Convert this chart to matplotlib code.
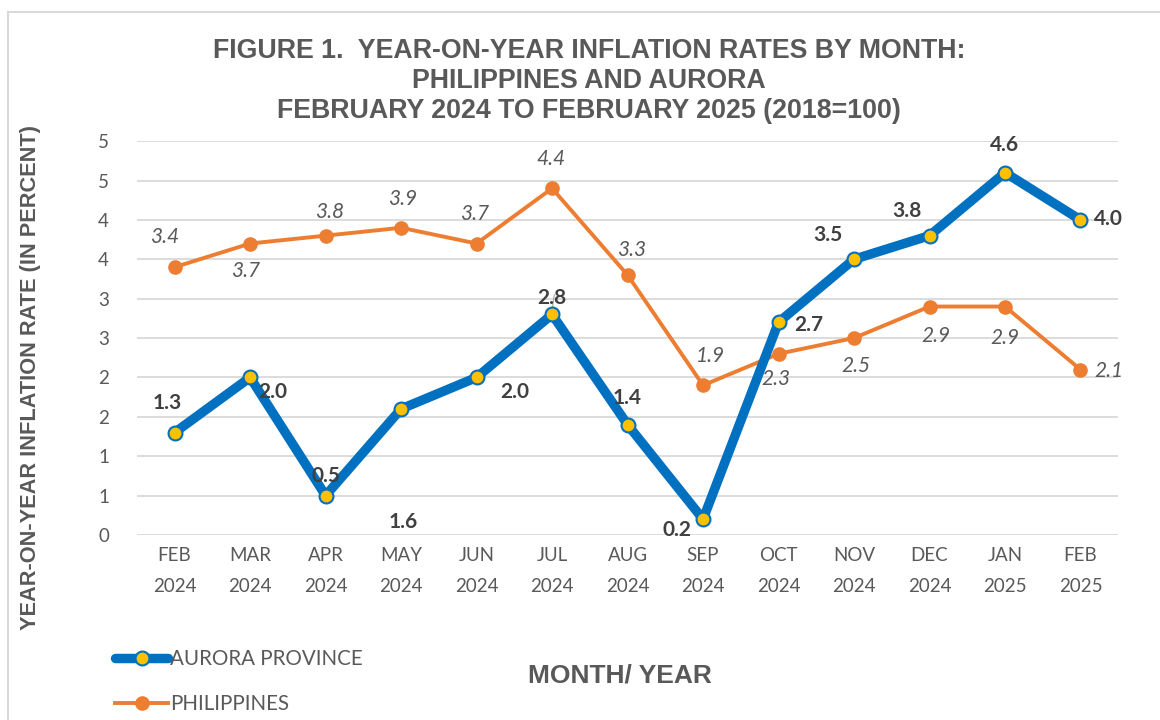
import matplotlib
matplotlib.use("Agg")
import matplotlib.pyplot as plt
from matplotlib.patches import Rectangle
from matplotlib.ticker import MultipleLocator, FuncFormatter
import numpy as np

months = ["FEB\n2024", "MAR\n2024", "APR\n2024", "MAY\n2024", "JUN\n2024", "JUL\n2024",
          "AUG\n2024", "SEP\n2024", "OCT\n2024", "NOV\n2024", "DEC\n2024", "JAN\n2025",
          "FEB\n2025"]
aurora = [1.3, 2.0, 0.5, 1.6, 2.0, 2.8, 1.4, 0.2, 2.7, 3.5, 3.8, 4.6, 4.0]
philippines = [3.4, 3.7, 3.8, 3.9, 3.7, 4.4, 3.3, 1.9, 2.3, 2.5, 2.9, 2.9, 2.1]

# label offsets in pixels (dx, dy), hand placed like the original
aurora_off = [(-7, 30), (23, -15), (0, 20), (2, -113), (38, -15), (0, 16),
              (0, 27), (-26, -11), (30, -3), (-26, 24), (-23, 25), (0, 28), (28, 1)]
phil_off = [(-10, 30), (-5, -27), (4, 24), (2, 29), (-2, 30), (-1, 29),
            (4, 25), (7, 29), (-3, -25), (2, -28), (6, -29), (0, -31), (28, -1)]

GRAY = "#595959"
DARK = "#404040"

fig = plt.figure(figsize=(11.6, 7.2), dpi=100)
ax = fig.add_axes([0.118, 0.257, 0.846, 0.547])

x = np.arange(len(months))
ax.plot(x, aurora, color="#0070C0", lw=6.8, marker="o", ms=10, mfc="#FFC000",
        mec="#0070C0", mew=1.5, solid_capstyle="round", label="AURORA PROVINCE", zorder=4)
ax.plot(x, philippines, color="#ED7D31", lw=2.8, marker="o", ms=9.5, mfc="#ED7D31",
        mec="#ED7D31", label="PHILIPPINES", zorder=3)

for i, v in enumerate(aurora):
    dx, dy = aurora_off[i]
    ax.annotate(f"{v:.1f}", (i, v), xytext=(dx, dy), textcoords="offset pixels",
                ha="center", va="center", fontsize=15, fontweight="bold",
                color=DARK, family="Lato", zorder=5)
ax.plot([5, 5.03], [2.8 + 0.05, 3.05], color="#a6a6a6", lw=0.8)

for i, v in enumerate(philippines):
    dx, dy = phil_off[i]
    ax.annotate(f"{v:.1f}", (i, v), xytext=(dx, dy), textcoords="offset pixels",
                ha="center", va="center", fontsize=15, style="italic",
                color=GRAY, family="Lato", zorder=5)

ax.set_xlim(-0.5, len(months) - 0.5)
ax.set_ylim(0, 5)
ax.yaxis.set_major_locator(MultipleLocator(0.5))
ax.yaxis.set_major_formatter(FuncFormatter(lambda v, p: str(int(np.floor(v + 0.5)))))
ax.set_xticks(x)
ax.set_xticklabels(months, linespacing=2.0)
ax.tick_params(axis="both", length=0, labelsize=13.5, labelcolor=GRAY)
ax.tick_params(axis="y", pad=20)
ax.tick_params(axis="x", pad=9)
for lab in ax.get_xticklabels() + ax.get_yticklabels():
    lab.set_family("Lato")
ax.grid(axis="y", color="#d9d9d9", lw=1.3)
ax.set_axisbelow(True)
for s in ax.spines.values():
    s.set_visible(False)

fig.text(0.508, 0.888, "FIGURE 1.  YEAR-ON-YEAR INFLATION RATES BY MONTH:\nPHILIPPINES AND AURORA\n"
         "FEBRUARY 2024 TO FEBRUARY 2025 (2018=100)", ha="center", va="center",
         fontsize=19.3, fontweight="bold", color=GRAY, family="Liberation Sans", linespacing=1.2)
fig.text(0.026, 0.475, "YEAR-ON-YEAR INFLATION RATE (IN PERCENT)", rotation=90,
         ha="center", va="center", fontsize=15.7, fontweight="bold", color=GRAY,
         family="Liberation Sans")
fig.text(0.534, 0.062, "MONTH/ YEAR", ha="center", va="center", fontsize=19,
         fontweight="bold", color=GRAY, family="Liberation Sans")

leg = fig.legend(loc="upper left", bbox_to_anchor=(0.083, 0.124), frameon=False,
                 handlelength=2.6, labelspacing=1.2, handletextpad=0.1,
                 prop={"family": "Lato", "size": 14.8})
for t in leg.get_texts():
    t.set_color(GRAY)

fig.patches.append(Rectangle((8 / 1160, -0.1), 1.2, 1 - 12 / 720 + 0.1, transform=fig.transFigure,
                             fill=False, ec="#d9d9d9", lw=1.5))

fig.savefig("out.png", dpi=100)
